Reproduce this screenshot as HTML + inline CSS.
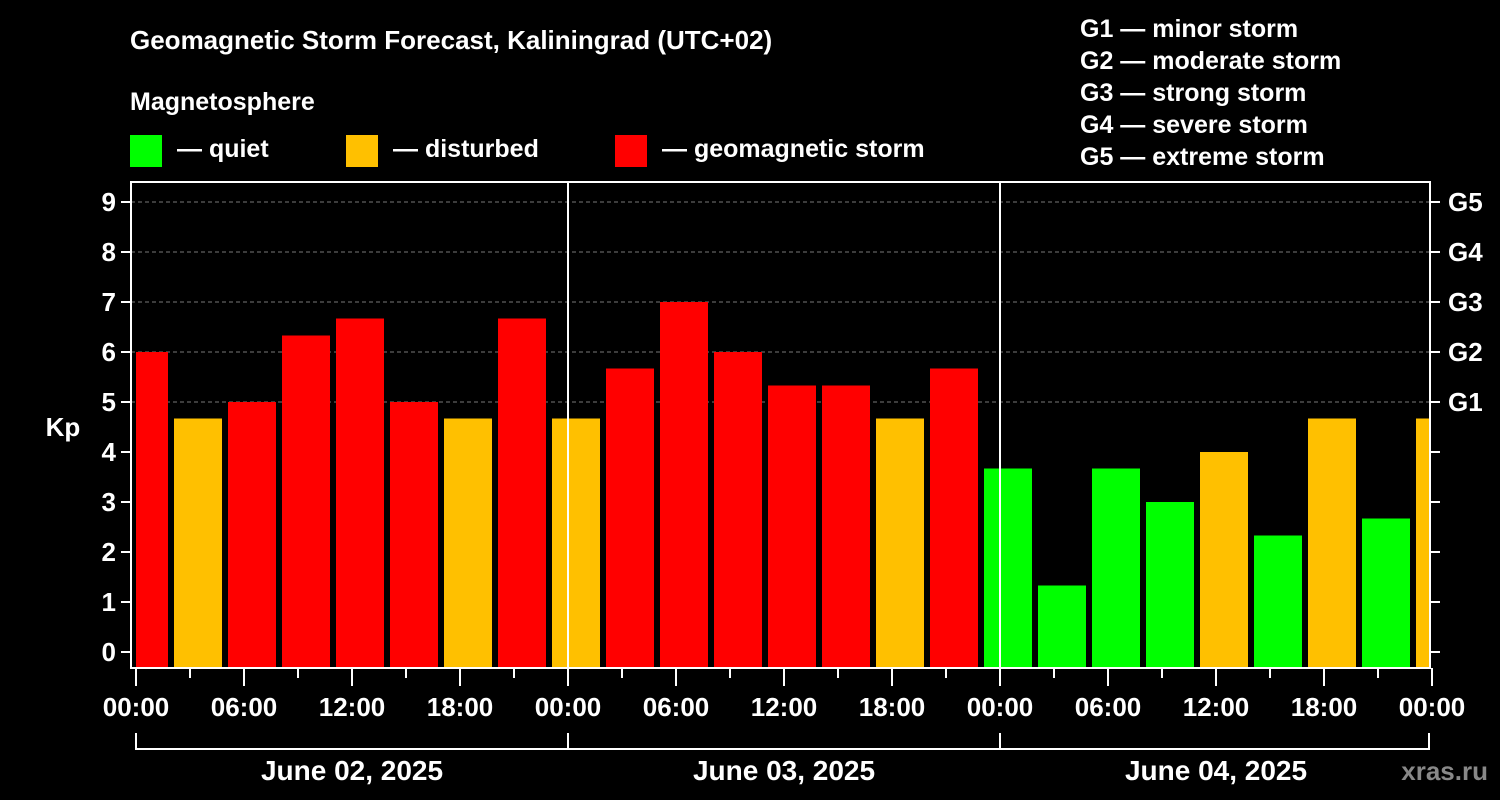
<!DOCTYPE html>
<html><head><meta charset="utf-8"><style>
body{margin:0;background:#000;}
svg{display:block;font-family:"Liberation Sans",sans-serif;font-weight:bold;}
</style></head><body>
<svg id="chart" width="1500" height="800" viewBox="0 0 1500 800">
<rect width="1500" height="800" fill="#000"/>
<text x="130" y="49" fill="#fff" font-size="26">Geomagnetic Storm Forecast, Kaliningrad (UTC+02)</text>
<text x="130" y="110" fill="#fff" font-size="25">Magnetosphere</text>
<g><rect x="130" y="135" width="32" height="32" fill="#00ff00"/><text x="177" y="157" fill="#fff" font-size="25">— quiet</text></g>
<g><rect x="346" y="135" width="32" height="32" fill="#ffc000"/><text x="393" y="157" fill="#fff" font-size="25">— disturbed</text></g>
<g><rect x="615" y="135" width="32" height="32" fill="#ff0000"/><text x="662" y="157" fill="#fff" font-size="25">— geomagnetic storm</text></g>
<g fill="#fff" font-size="25">
<text x="1080" y="37">G1 — minor storm</text>
<text x="1080" y="69">G2 — moderate storm</text>
<text x="1080" y="101">G3 — strong storm</text>
<text x="1080" y="133">G4 — severe storm</text>
<text x="1080" y="165">G5 — extreme storm</text>
</g>
<text x="63" y="436" fill="#fff" font-size="26" text-anchor="middle">Kp</text>
<text x="1488" y="780" fill="#888" font-size="26" text-anchor="end">xras.ru</text>
<g id="grid"></g><g id="bars"></g><g id="axes"></g>
</svg>
<script>
const kpValues=[6,4.67,5,6.33,6.67,5,4.67,6.67,4.67,5.67,7,6,5.33,5.33,4.67,5.67,3.67,1.33,3.67,3,4,2.33,4.67,2.67,4.67];
const yTicks=[0,1,2,3,4,5,6,7,8,9];
const gLabels=["G1","G2","G3","G4","G5"];
const gLevels=[5,6,7,8,9];
const hourLabels=["00:00","06:00","12:00","18:00","00:00","06:00","12:00","18:00","00:00","06:00","12:00","18:00","00:00"];
const dayLabels=["June 02, 2025","June 03, 2025","June 04, 2025"];
const NS="http://www.w3.org/2000/svg";
const L=131,R=1430,T=182,B=668,X0=136,PXH=18;
const y=v=>652-v*50, x=h=>X0+h*PXH;
function mk(p,t,a){const e=document.createElementNS(NS,t);for(const k in a)e.setAttribute(k,a[k]);p.appendChild(e);return e;}
const grid=document.getElementById('grid'),bars=document.getElementById('bars'),axes=document.getElementById('axes');
gLevels.forEach(v=>{const l=mk(grid,'line',{x1:L,x2:R,y1:y(v),y2:y(v),stroke:'#777','stroke-dasharray':'4,3'});

});
kpValues.forEach((v,i)=>{let s=x(-1+3*i)+2,e=x(2+3*i)-4;s=Math.max(s,x(0));e=Math.min(e,R);
const c=v>=5?'#ff0000':(v>=4?'#ffc000':'#00ff00');
const r=mk(bars,'rect',{x:s,y:y(v),width:e-s,height:B-y(v),fill:c});

});
[1,2].forEach(d=>{const l=mk(axes,'line',{x1:x(24*d),x2:x(24*d),y1:T,y2:B,stroke:'#fff','stroke-width':2});

});
const fr=mk(axes,'rect',{x:L,y:T,width:R-L,height:B-T,fill:'none',stroke:'#fff','stroke-width':2});


yTicks.forEach(v=>{mk(axes,'line',{x1:121,x2:L,y1:y(v),y2:y(v),stroke:'#fff','stroke-width':2});
mk(axes,'line',{x1:R,x2:1440,y1:y(v),y2:y(v),stroke:'#fff','stroke-width':2});
const t=mk(axes,'text',{x:116,y:y(v)+9,fill:'#fff','font-size':26,'text-anchor':'end'});t.textContent=v;

});
gLevels.forEach((v,i)=>{const t=mk(axes,'text',{x:1448,y:y(v)+9,fill:'#fff','font-size':26});t.textContent=gLabels[i];

});
for(let h=0;h<=72;h+=3){const maj=h%6===0;mk(axes,'line',{x1:x(h),x2:x(h),y1:B,y2:maj?686:678,stroke:'#fff','stroke-width':2});}
hourLabels.forEach((s,i)=>{const t=mk(axes,'text',{x:x(6*i),y:716,fill:'#fff','font-size':26,'text-anchor':'middle'});t.textContent=s;

});
mk(axes,'path',{d:`M${x(0)} 733V749H${x(72)-3}V733M${x(24)} 733V749M${x(48)} 733V749`,stroke:'#fff','stroke-width':2,fill:'none'});
dayLabels.forEach((s,i)=>{const t=mk(axes,'text',{x:x(24*i+12),y:780,fill:'#fff','font-size':28,'text-anchor':'middle'});t.textContent=s;

});
</script>
</body></html>
